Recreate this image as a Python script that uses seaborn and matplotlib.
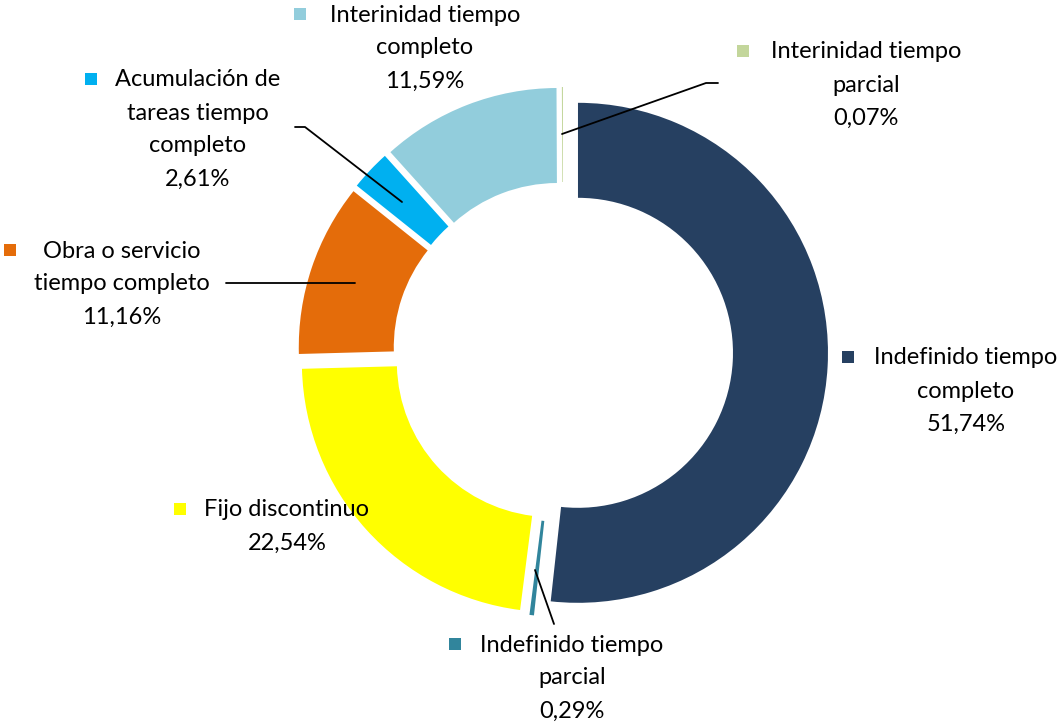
import numpy as np
import seaborn as sns
import matplotlib.pyplot as plt

sns.set_theme(style="white")
plt.rcParams['font.family'] = ['Lato', 'DejaVu Sans']

# contract types, clockwise from the top
categorias = ["Indefinido tiempo\ncompleto", "Indefinido tiempo\nparcial", "Fijo discontinuo",
              "Obra o servicio\ntiempo completo", "Acumulación de\ntareas tiempo\ncompleto",
              "Interinidad tiempo\ncompleto", "Interinidad tiempo\nparcial"]
porcentajes = [51.74, 0.29, 22.54, 11.16, 2.61, 11.59, 0.07]
colores = ["#264061", "#31859C", "#FFFF00", "#E46C0A", "#00B0F0", "#92CDDC", "#C3D69B"]

W, H = 1064, 724
CX, CY, R = 563, 352, 250   # pie centre / radius in pixels


def px(x, y):
    # pixel position -> data coords
    return (x - CX) / R, (CY - y) / R


fig = plt.figure(figsize=(W / 100, H / 100), dpi=100)
ax = fig.add_axes([0, 0, 1, 1])
ax.pie(porcentajes, colors=colores, startangle=90, counterclock=False,
       explode=[0.06] * len(porcentajes), radius=1.0,
       wedgeprops=dict(width=0.38, linewidth=0))
ax.set_xlim(-CX / R, (W - CX) / R)
ax.set_ylim(-(H - CY) / R, CY / R)
ax.set_aspect('equal')
ax.axis('off')

# label centres (x of text block centre, y of first line) and marker x
etiquetas = [
    (966, 358, 848),
    (572, 645, 455),
    (287, 510, 180),
    (122, 251, 10),
    (198, 80, 91),
    (425, 15, 300),
    (866, 52, 743),
]
LS = 33  # line step in px
for cat, val, col, (tx, ty, mx) in zip(categorias, porcentajes, colores, etiquetas):
    lines = cat.split("\n") + [f"{val:.2f}%".replace(".", ",")]
    for i, ln in enumerate(lines):
        x, y = px(tx, ty + i * LS)
        ax.text(x, y, ln, ha='center', va='center', fontsize=17, color='black')
    x, y = px(mx, ty - 1)
    ax.scatter([x], [y], marker='s', s=85, color=col, linewidths=0)

# leader lines
lideres = [
    [(562, 134), (706, 83), (718, 83)],
    [(295, 127), (305, 127), (402, 202)],
    [(226, 283), (355, 283)],
    [(535, 570), (554, 624)],
]
for pts in lideres:
    xs, ys = zip(*[px(a, b) for a, b in pts])
    ax.plot(xs, ys, color='black', lw=1.3)

fig.savefig("out.png", dpi=100)
